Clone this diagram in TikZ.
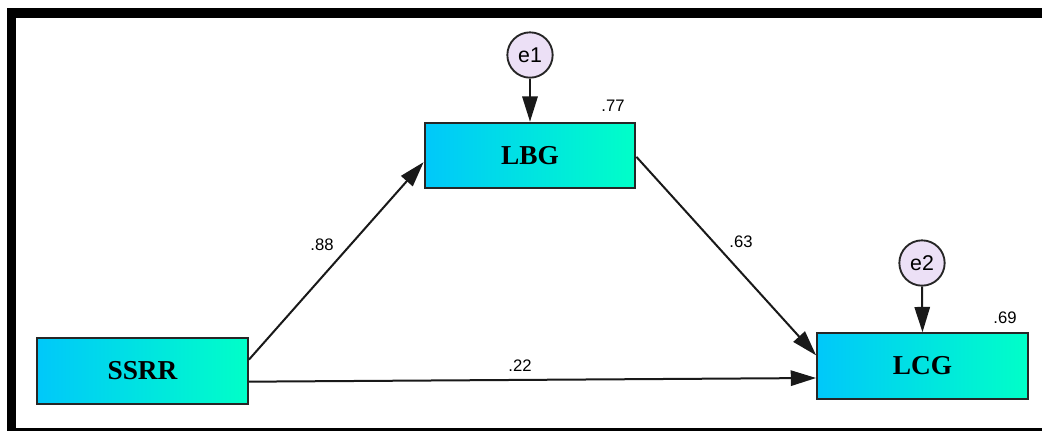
\documentclass[tikz,border=0pt]{standalone}
\usepackage{fontspec}
\setmainfont{Liberation Serif}
\newfontfamily\arialf{Liberation Sans}
\usetikzlibrary{arrows.meta,calc}
\definecolor{cleft}{RGB}{0,200,250}
\definecolor{cright}{RGB}{0,255,200}
\definecolor{errfill}{RGB}{236,224,246}
\tikzset{
  varbox/.style={draw=black!85, line width=1.6pt, left color=cleft, right color=cright, shading angle=90,
     minimum width=158pt, minimum height=49pt, inner sep=0pt, font=\fontsize{20.5}{22}\selectfont\bfseries},
  errcirc/.style={circle, draw=black!85, line width=1.4pt, fill=errfill, minimum size=34pt, inner sep=0pt,
     font=\arialf\fontsize{16}{18}\selectfont},
  coef/.style={font=\arialf\fontsize{12.5}{14}\selectfont, inner sep=0pt},
  path/.style={draw=black!90, line width=1.5pt, -{Triangle[length=19pt,width=11.5pt]}}
}
\begin{document}
\begin{tikzpicture}[x=0.75pt,y=-0.75pt]
\useasboundingbox (0,0) rectangle (1042,430);
\fill[white] (0,0) rectangle (1042,430);
\begin{scope}
\clip (0,0) rectangle (1042,430);
\draw[line width=7pt] (11.5,13) rectangle (1060,433);
\end{scope}
\node[varbox] (SSRR) at (142.5,371) {SSRR};
\node[varbox] (LBG) at (530,155.5) {LBG};
\node[varbox] (LCG) at (922.5,366) {LCG};
\node[errcirc] (e1) at (530,55) {e1};
\node[errcirc] (e2) at (922,263) {e2};
\draw[path] (e1.south) -- (LBG.north);
\draw[path] (e2.south) -- (LCG.north);
\draw[path] ([yshift=8.5pt]SSRR.east) -- ([yshift=-5pt]LBG.west);
\draw[path] ([yshift=-1pt]LBG.east) -- ([yshift=8pt]LCG.west);
\draw[path] ([yshift=-8pt]SSRR.east) -- ([yshift=-9pt]LCG.west);
\node[coef] (r1) at (613,106) {.77};
\node[coef] (r2) at (1005,318) {.69};
\node[coef] (c1) at (322,245) {.88};
\node[coef] (c2) at (741,242) {.63};
\node[coef] (c3) at (520,366) {.22};
\end{tikzpicture}
\end{document}
